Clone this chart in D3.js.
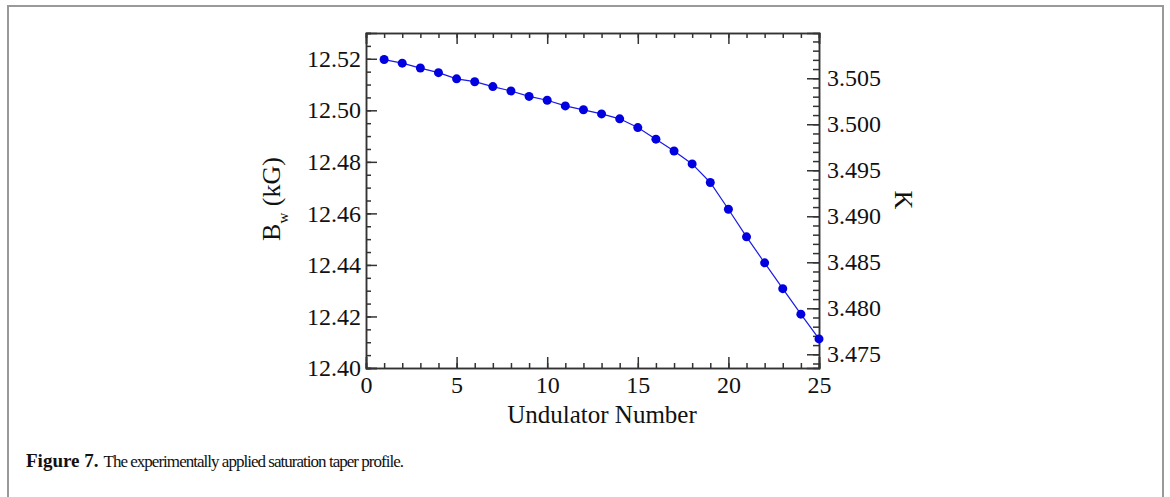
<!DOCTYPE html>
<html>
<head>
<meta charset="utf-8">
<script src="https://cdnjs.cloudflare.com/ajax/libs/d3/7.8.5/d3.min.js"></script>
<style>
  body { margin: 0; background: #fff; }
  svg { display: block; }
  .axis path, .axis line { stroke: #333; stroke-width: 1.5px; }
  .axis text { font-family: "Liberation Serif", "Times New Roman", serif; font-size: 24px; fill: #111; }
</style>
</head>
<body>
<div id="plot"></div>
<script>
// undulator index and on-axis field (kG)
var undulators = d3.range(1, 26);
var bwValues = [12.5197, 12.5183, 12.5164, 12.5146, 12.5122, 12.5111, 12.5092, 12.5075, 12.5054, 12.5039,
                12.5017, 12.5002, 12.4986, 12.4967, 12.4933, 12.4888, 12.4842, 12.4792, 12.4720, 12.4616,
                12.4509, 12.4408, 12.4308, 12.4209, 12.4113];
var xTicks = [0, 5, 10, 15, 20, 25];
var bwTicks = [12.40, 12.42, 12.44, 12.46, 12.48, 12.50, 12.52];
var kTicks = [3.475, 3.480, 3.485, 3.490, 3.495, 3.500, 3.505];

var W = 1170, H = 497;
var margin = {t:33, r:351, b:129, l:366};
var width = W - margin.l - margin.r,
    height = H - margin.t - margin.b;

var svg = d3.select('#plot')
  .append('svg')
  .attr('width', W)
  .attr('height', H);

// outer frame of the figure
svg.append('rect')
  .attr('x', 8).attr('y', 6)
  .attr('width', 1155).attr('height', 520)
  .style('fill', 'none')
  .style('stroke', '#999')
  .style('stroke-width', '2px');

var plot = svg.append('g')
  .attr('transform', 'translate(' + margin.l + ',' + margin.t + ')');

var x = d3.scaleLinear().domain([0, 25]).range([0, width]);
var y = d3.scaleLinear().domain([12.40, 12.53]).range([height, 0]);
var yK = d3.scaleLinear().domain([3.47351, 3.50992]).range([height, 0]);

// minor ticks first
plot.append('g').attr('class', 'axis')
  .attr('transform', 'translate(0,' + height + ')')
  .call(d3.axisBottom(x).tickValues(d3.range(0, 26)).tickSize(-5).tickFormat(''));
plot.append('g').attr('class', 'axis')
  .call(d3.axisTop(x).tickValues(d3.range(0, 26)).tickSize(-5).tickFormat(''));
plot.append('g').attr('class', 'axis')
  .call(d3.axisLeft(y).tickValues(d3.range(0, 27).map(function(i){ return 12.40 + i * 0.005; })).tickSize(-5).tickFormat(''));
plot.append('g').attr('class', 'axis')
  .attr('transform', 'translate(' + width + ',0)')
  .call(d3.axisRight(yK).tickValues(d3.range(0, 36).map(function(i){ return 3.474 + i * 0.001; })).tickSize(-6).tickFormat(''));

// major ticks with labels
plot.append('g').attr('class', 'axis')
  .attr('transform', 'translate(0,' + height + ')')
  .call(d3.axisBottom(x).tickValues(xTicks).tickSize(-11).tickPadding(8).tickFormat(d3.format('d')));
plot.append('g').attr('class', 'axis')
  .call(d3.axisTop(x).tickValues(xTicks).tickSize(-11).tickFormat(''));
plot.append('g').attr('class', 'axis')
  .call(d3.axisLeft(y).tickValues(bwTicks).tickSize(-11).tickPadding(5).tickFormat(d3.format('.2f')));
plot.append('g').attr('class', 'axis')
  .attr('transform', 'translate(' + width + ',0)')
  .call(d3.axisRight(yK).tickValues(kTicks).tickSize(-12).tickPadding(8).tickFormat(d3.format('.3f')));

// data line and points
var data = undulators.map(function(u, i){ return {u:u, b:bwValues[i]}; });
plot.append('path')
  .datum(data)
  .attr('d', d3.line().x(function(d){ return x(d.u); }).y(function(d){ return y(d.b); }))
  .style('fill', 'none')
  .style('stroke', '#1a1ae6')
  .style('stroke-width', '1.2px');
plot.selectAll('circle')
  .data(data)
  .enter()
  .append('circle')
  .attr('cx', function(d){ return x(d.u); })
  .attr('cy', function(d){ return y(d.b); })
  .attr('r', 4.5)
  .style('fill', '#0000e0');

var serif = '"Liberation Serif", "Times New Roman", serif';

// axis titles
svg.append('text')
  .attr('x', 602).attr('y', 423)
  .attr('text-anchor', 'middle')
  .style('font-family', serif).style('font-size', '25px').style('fill', '#111')
  .text('Undulator Number');

var yl = svg.append('text')
  .attr('transform', 'translate(280,199) rotate(-90)')
  .attr('text-anchor', 'middle')
  .style('font-family', serif).style('font-size', '26px').style('fill', '#111');
yl.append('tspan').text('B');
yl.append('tspan').attr('dy', 8).style('font-size', '15px').text('w');
yl.append('tspan').attr('dy', -8).text(' (kG)');

svg.append('text')
  .attr('transform', 'translate(895,200) rotate(90)')
  .attr('text-anchor', 'middle')
  .style('font-family', serif).style('font-size', '26px').style('fill', '#111')
  .text('K');

// caption
var capBold = svg.append('text')
  .attr('x', 26).attr('y', 467)
  .style('font-family', serif).style('font-size', '19px').style('font-weight', 'bold').style('fill', '#111')
  .text('Figure 7.');
var capStart = 26 + capBold.node().getComputedTextLength() + 5;
svg.append('text')
  .attr('x', capStart).attr('y', 467)
  .attr('textLength', 404 - capStart).attr('lengthAdjust', 'spacing')
  .style('font-family', serif).style('font-size', '17px').style('fill', '#111')
  .text('The experimentally applied saturation taper profile.');
</script>
</body>
</html>
